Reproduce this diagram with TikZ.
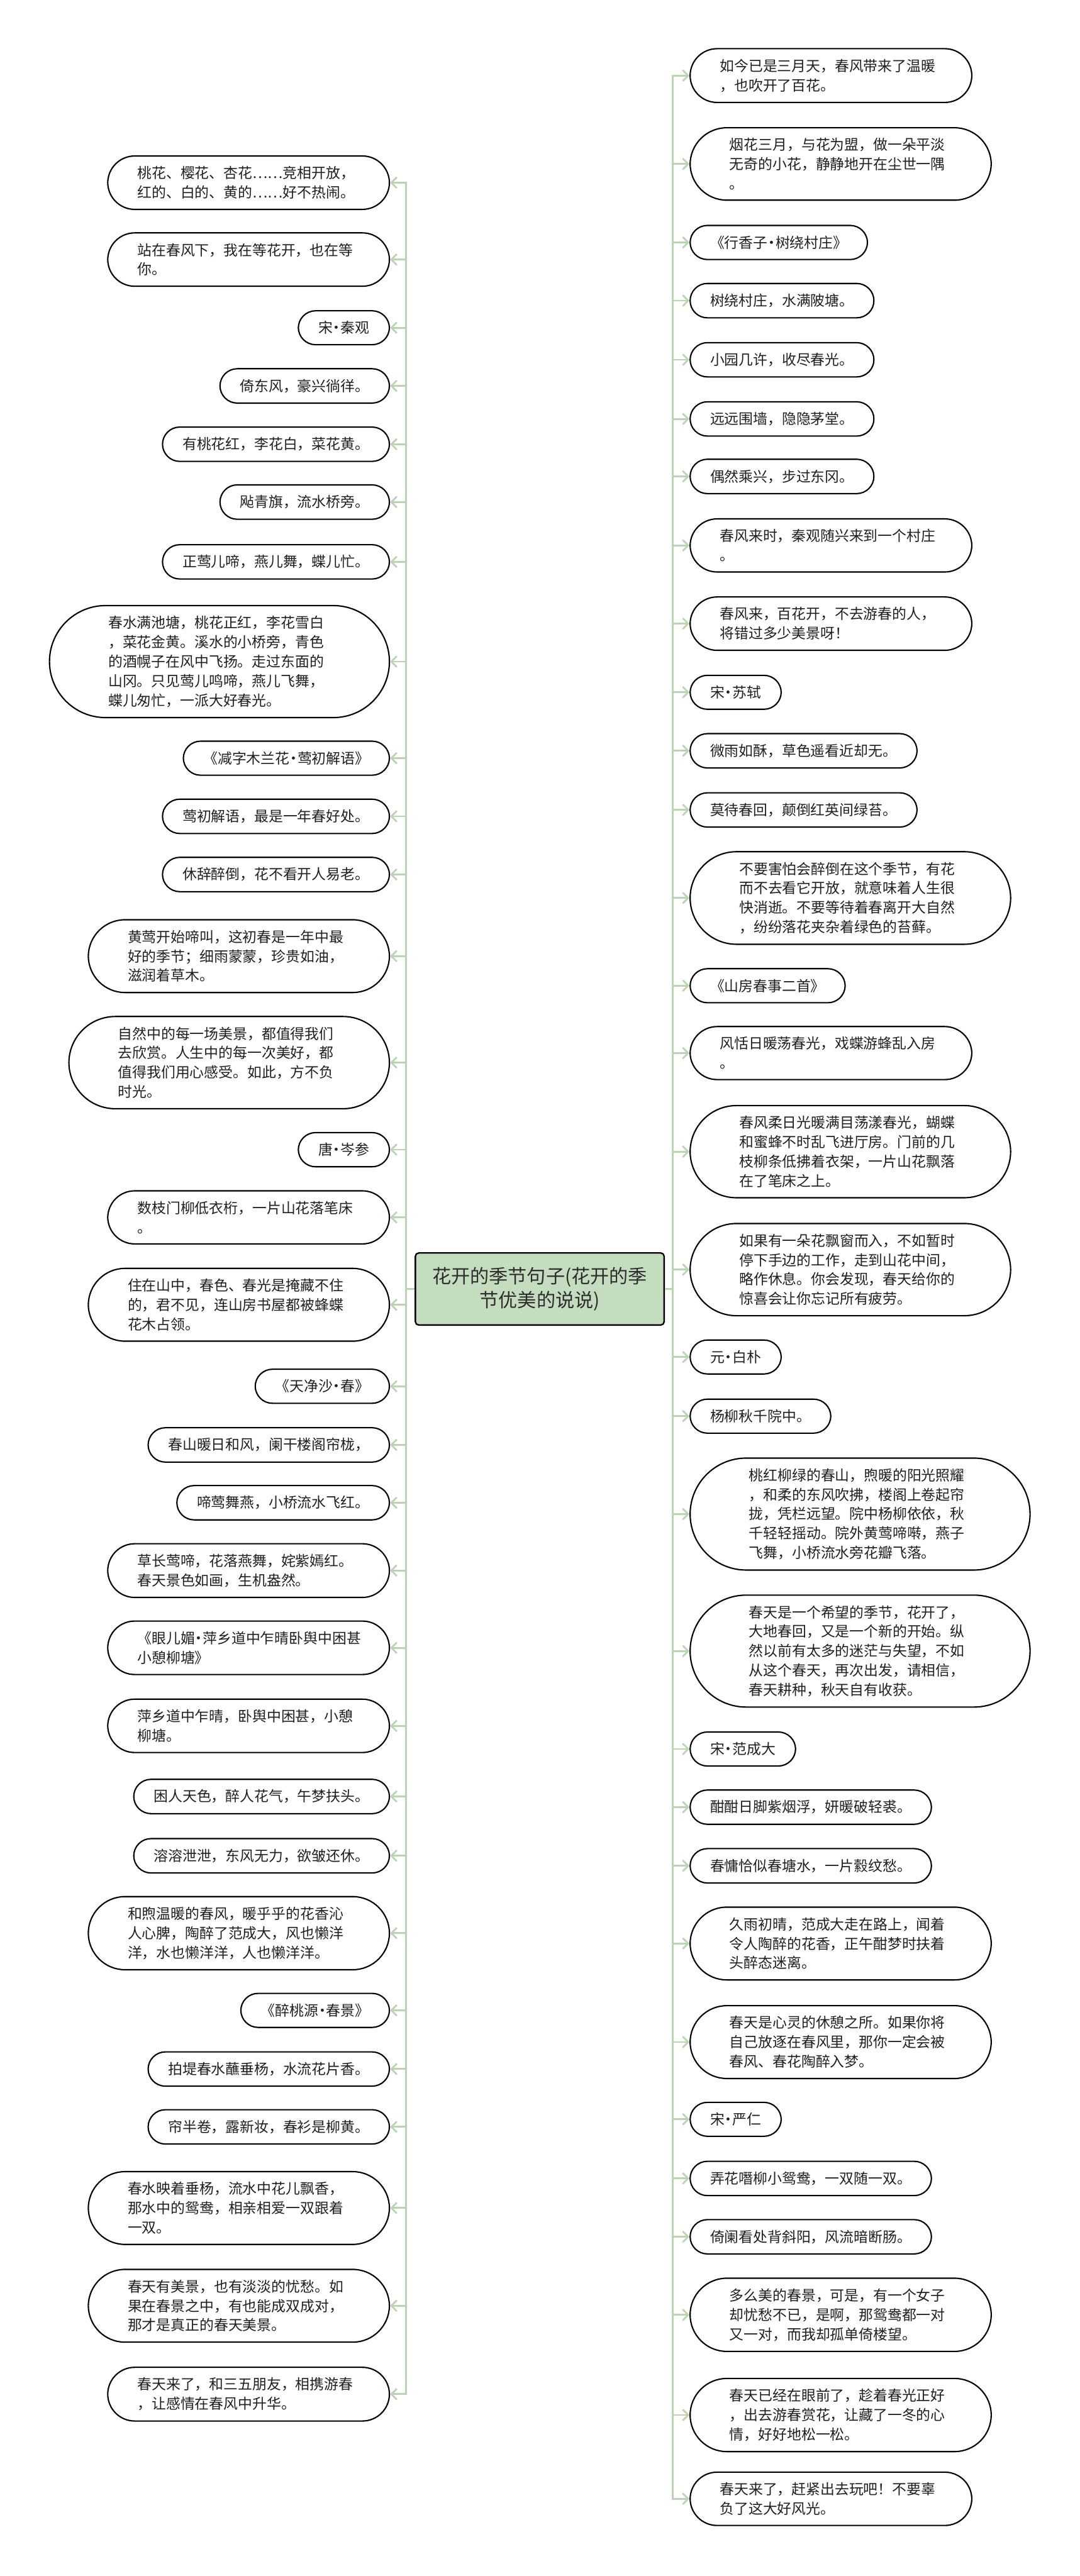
\documentclass[tikz,border=0pt]{standalone}
\usepackage{fontspec}
\setmainfont{Noto Sans CJK SC}
\usetikzlibrary{arrows.meta}
\definecolor{LinkGreen}{RGB}{185,213,177}
\definecolor{RootGreen}{RGB}{196,221,191}
\definecolor{DarkText}{RGB}{45,45,45}
\newcommand{\midot}{\makebox[0.55em]{·}}
\newcommand{\cndots}{{\addfontfeature{RawFeature=+fwid}……}}

\begin{document}
\begin{tikzpicture}[x=0.03897cm, y=-0.03897cm,
	leaf/.style={draw, line width=0.9pt, align=left, text=black!88, font=\fontsize{9.7pt}{13.1pt}\selectfont, inner ysep=0.245cm, rounded corners={0.41cm+0.2303cm*(#1-1)}, inner xsep={0.475cm+0.2303cm*(#1-1)}},
	leaf/.default=1,
	para/.style={leaf=#1, text width=5.27cm},
	root/.style={draw, line width=1pt, fill=RootGreen, rounded corners=0.08cm, align=center, text=DarkText, minimum width=5.9cm, minimum height=1.71cm, font=\fontsize{12.8pt}{16.2pt}\selectfont},
	link/.style={draw=LinkGreen, line width=1.2pt, -{Straight Barb[length=1.3mm,width=2.6mm]}}]
		\useasboundingbox (0,0) rectangle (657,1568);
		% 中心
		\node[root] (root) at (328.5,784.6) {花开的季节句子(花开的季\\节优美的说说)};
		\coordinate (lt) at (247,0);
		\coordinate (rt) at (409.5,0);
		% 左侧
		\node[para=2, anchor=east] (l1) at (237.4,111.2) {桃花、樱花、杏花\cndots 竞相开放，\\红的、白的、黄的\cndots 好不热闹。};
		\node[para=2, anchor=east] (l2) at (237.4,158) {站在春风下，我在等花开，也在等\\你。};
		\node[leaf, anchor=east] (l3) at (237.4,199.5) {宋\midot 秦观};
		\node[leaf, anchor=east] (l4) at (237.4,234.9) {倚东风，豪兴徜徉。};
		\node[leaf, anchor=east] (l5) at (237.4,270.4) {有桃花红，李花白，菜花黄。};
		\node[leaf, anchor=east] (l6) at (237.4,305.6) {飐青旗，流水桥旁。};
		\node[leaf, anchor=east] (l7) at (237.4,342) {正莺儿啼，燕儿舞，蝶儿忙。};
		\node[para=5, anchor=east] (l8) at (237.4,402.7) {春水满池塘，桃花正红，李花雪白\\，菜花金黄。溪水的小桥旁，青色\\的酒幌子在风中飞扬。走过东面的\\山冈。只见莺儿鸣啼，燕儿飞舞，\\蝶儿匆忙，一派大好春光。};
		\node[leaf, anchor=east] (l9) at (237.4,461.5) {《减字木兰花\midot 莺初解语》};
		\node[leaf, anchor=east] (l10) at (237.4,496.9) {莺初解语，最是一年春好处。};
		\node[leaf, anchor=east] (l11) at (237.4,532.3) {休辞醉倒，花不看开人易老。};
		\node[para=3, anchor=east] (l12) at (237.4,582) {黄莺开始啼叫，这初春是一年中最\\好的季节；细雨蒙蒙，珍贵如油，\\滋润着草木。};
		\node[para=4, anchor=east] (l13) at (237.4,646.8) {自然中的每一场美景，都值得我们\\去欣赏。人生中的每一次美好，都\\值得我们用心感受。如此，方不负\\时光。};
		\node[leaf, anchor=east] (l14) at (237.4,699.8) {唐\midot 岑参};
		\node[para=2, anchor=east] (l15) at (237.4,741) {数枝门柳低衣桁，一片山花落笔床\\。};
		\node[para=3, anchor=east] (l16) at (237.4,794.2) {住在山中，春色、春光是掩藏不住\\的，君不见，连山房书屋都被蜂蝶\\花木占领。};
		\node[leaf, anchor=east] (l17) at (237.4,843.8) {《天净沙\midot 春》};
		\node[leaf, anchor=east] (l18) at (237.4,879.5) {春山暖日和风，阑干楼阁帘栊，};
		\node[leaf, anchor=east] (l19) at (237.4,914.7) {啼莺舞燕，小桥流水飞红。};
		\node[para=2, anchor=east] (l20) at (237.4,956) {草长莺啼，花落燕舞，姹紫嫣红。\\春天景色如画，生机盎然。};
		\node[para=2, anchor=east] (l21) at (237.4,1003) {《眼儿媚\midot 萍乡道中乍晴卧舆中困甚\\小憩柳塘》};
		\node[para=2, anchor=east] (l22) at (237.4,1050.5) {萍乡道中乍晴，卧舆中困甚，小憩\\柳塘。};
		\node[leaf, anchor=east] (l23) at (237.4,1093.5) {困人天色，醉人花气，午梦扶头。};
		\node[leaf, anchor=east] (l24) at (237.4,1129.6) {溶溶泄泄，东风无力，欲皱还休。};
		\node[para=3, anchor=east] (l25) at (237.4,1176.7) {和煦温暖的春风，暖乎乎的花香沁\\人心脾，陶醉了范成大，风也懒洋\\洋，水也懒洋洋，人也懒洋洋。};
		\node[leaf, anchor=east] (l26) at (237.4,1223.7) {《醉桃源\midot 春景》};
		\node[leaf, anchor=east] (l27) at (237.4,1259.4) {拍堤春水蘸垂杨，水流花片香。};
		\node[leaf, anchor=east] (l28) at (237.4,1294.6) {帘半卷，露新妆，春衫是柳黄。};
		\node[para=3, anchor=east] (l29) at (237.4,1344) {春水映着垂杨，流水中花儿飘香，\\那水中的鸳鸯，相亲相爱一双跟着\\一双。};
		\node[para=3, anchor=east] (l30) at (237.4,1403.5) {春天有美景，也有淡淡的忧愁。如\\果在春景之中，有也能成双成对，\\那才是真正的春天美景。};
		\node[para=2, anchor=east] (l31) at (237.4,1457.3) {春天来了，和三五朋友，相携游春\\，让感情在春风中升华。};
		% 右侧
		\node[para=2, anchor=west] (r1) at (419.6,46) {如今已是三月天，春风带来了温暖\\，也吹开了百花。};
		\node[para=3, anchor=west] (r2) at (419.6,99.8) {烟花三月，与花为盟，做一朵平淡\\无奇的小花，静静地开在尘世一隅\\。};
		\node[leaf, anchor=west] (r3) at (419.6,147.6) {《行香子\midot 树绕村庄》};
		\node[leaf, anchor=west] (r4) at (419.6,183) {树绕村庄，水满陂塘。};
		\node[leaf, anchor=west] (r5) at (419.6,219) {小园几许，收尽春光。};
		\node[leaf, anchor=west] (r6) at (419.6,255) {远远围墙，隐隐茅堂。};
		\node[leaf, anchor=west] (r7) at (419.6,290) {偶然乘兴，步过东冈。};
		\node[para=2, anchor=west] (r8) at (419.6,332) {春风来时，秦观随兴来到一个村庄\\。};
		\node[para=2, anchor=west] (r9) at (419.6,379.6) {春风来，百花开，不去游春的人，\\将错过多少美景呀！};
		\node[leaf, anchor=west] (r10) at (419.6,421.4) {宋\midot 苏轼};
		\node[leaf, anchor=west] (r11) at (419.6,457) {微雨如酥，草色遥看近却无。};
		\node[leaf, anchor=west] (r12) at (419.6,493) {莫待春回，颠倒红英间绿苔。};
		\node[para=4, anchor=west] (r13) at (419.6,546.6) {不要害怕会醉倒在这个季节，有花\\而不去看它开放，就意味着人生很\\快消逝。不要等待着春离开大自然\\，纷纷落花夹杂着绿色的苔藓。};
		\node[leaf, anchor=west] (r14) at (419.6,600) {《山房春事二首》};
		\node[para=2, anchor=west] (r15) at (419.6,641) {风恬日暖荡春光，戏蝶游蜂乱入房\\。};
		\node[para=4, anchor=west] (r16) at (419.6,701) {春风柔日光暖满目荡漾春光，蝴蝶\\和蜜蜂不时乱飞进厅房。门前的几\\枝柳条低拂着衣架，一片山花飘落\\在了笔床之上。};
		\node[para=4, anchor=west] (r17) at (419.6,772.8) {如果有一朵花飘窗而入，不如暂时\\停下手边的工作，走到山花中间，\\略作休息。你会发现，春天给你的\\惊喜会让你忘记所有疲劳。};
		\node[leaf, anchor=west] (r18) at (419.6,826) {元\midot 白朴};
		\node[leaf, anchor=west] (r19) at (419.6,862) {杨柳秋千院中。};
		\node[para=5, anchor=west] (r20) at (419.6,921.6) {桃红柳绿的春山，煦暖的阳光照耀\\，和柔的东风吹拂，楼阁上卷起帘\\拢，凭栏远望。院中杨柳依依，秋\\千轻轻摇动。院外黄莺啼啭，燕子\\飞舞，小桥流水旁花瓣飞落。};
		\node[para=5, anchor=west] (r21) at (419.6,1005) {春天是一个希望的季节，花开了，\\大地春回，又是一个新的开始。纵\\然以前有太多的迷茫与失望，不如\\从这个春天，再次出发，请相信，\\春天耕种，秋天自有收获。};
		\node[leaf, anchor=west] (r22) at (419.6,1064.6) {宋\midot 范成大};
		\node[leaf, anchor=west] (r23) at (419.6,1100) {酣酣日脚紫烟浮，妍暖破轻裘。};
		\node[leaf, anchor=west] (r24) at (419.6,1135.7) {春慵恰似春塘水，一片縠纹愁。};
		\node[para=3, anchor=west] (r25) at (419.6,1183) {久雨初晴，范成大走在路上，闻着\\令人陶醉的花香，正午酣梦时扶着\\头醉态迷离。};
		\node[para=3, anchor=west] (r26) at (419.6,1243) {春天是心灵的休憩之所。如果你将\\自己放逐在春风里，那你一定会被\\春风、春花陶醉入梦。};
		\node[leaf, anchor=west] (r27) at (419.6,1290) {宋\midot 严仁};
		\node[leaf, anchor=west] (r28) at (419.6,1326) {弄花噆柳小鸳鸯，一双随一双。};
		\node[leaf, anchor=west] (r29) at (419.6,1361.5) {倚阑看处背斜阳，风流暗断肠。};
		\node[para=3, anchor=west] (r30) at (419.6,1409) {多么美的春景，可是，有一个女子\\却忧愁不已，是啊，那鸳鸯都一对\\又一对，而我却孤单倚楼望。};
		\node[para=3, anchor=west] (r31) at (419.6,1470) {春天已经在眼前了，趁着春光正好\\，出去游春赏花，让藏了一冬的心\\情，好好地松一松。};
		\node[para=2, anchor=west] (r32) at (419.6,1521) {春天来了，赶紧出去玩吧！不要辜\\负了这大好风光。};
		% 连线
		\foreach \i in {1,...,31}
			\draw[link] (root.west) -- (lt |- root.west) |- (l\i.east);
		\foreach \i in {1,...,32}
			\draw[link] (root.east) -- (rt |- root.east) |- (r\i.west);
	\end{tikzpicture}
\end{document}
